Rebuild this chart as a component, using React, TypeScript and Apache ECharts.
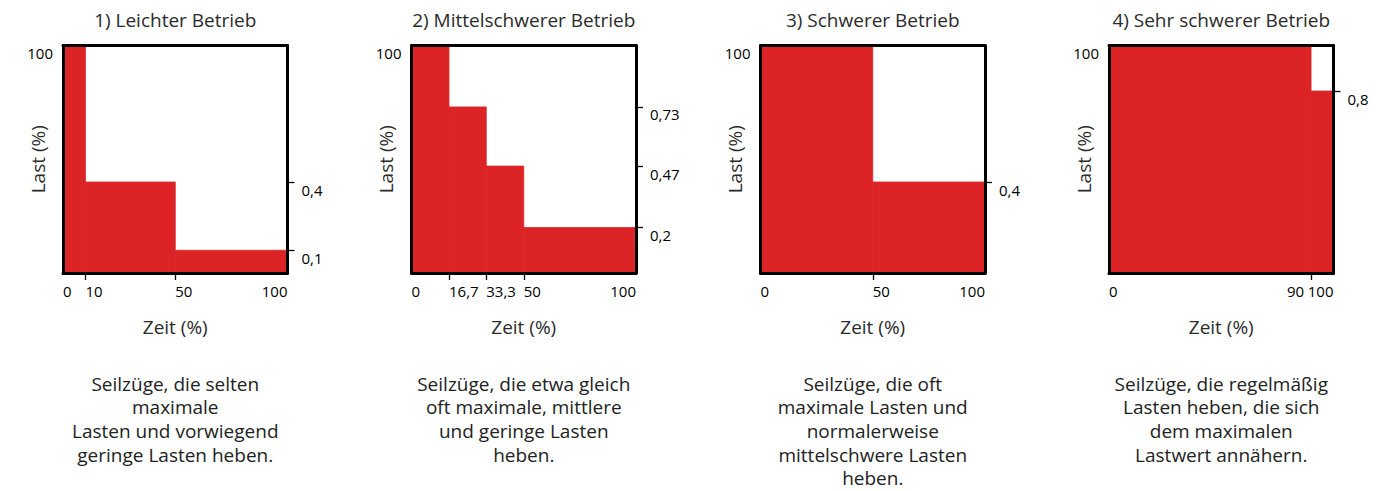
import React, { useEffect, useRef } from "react";
import * as echarts from "echarts";

// ---- data ----
const titles = [
  "1) Leichter Betrieb",
  "2) Mittelschwerer Betrieb",
  "3) Schwerer Betrieb",
  "4) Sehr schwerer Betrieb",
];

const descriptions = [
  ["Seilzüge, die selten", "maximale", "Lasten und vorwiegend", "geringe Lasten heben."],
  ["Seilzüge, die etwa gleich", "oft maximale, mittlere", "und geringe Lasten", "heben."],
  ["Seilzüge, die oft", "maximale Lasten und", "normalerweise", "mittelschwere Lasten", "heben."],
  ["Seilzüge, die regelmäßig", "Lasten heben, die sich", "dem maximalen", "Lastwert annähern."],
];

// time breaks (% of time) and load level held during each interval (fraction of max load)
const timeBreaks1 = [0, 10, 50, 100];
const loadLevels1 = [1, 0.4, 0.1];
const timeBreaks2 = [0, 16.7, 33.3, 50, 100];
const loadLevels2 = [1, 0.73, 0.47, 0.2];
const timeBreaks3 = [0, 50, 100];
const loadLevels3 = [1, 0.4];
const timeBreaks4 = [0, 90, 100];
const loadLevels4 = [1, 0.8];

// x tick values (interior breaks) and end labels
const xTicks1 = [10, 50];
const xTicks2 = [16.7, 33.3, 50];
const xTicks3 = [50];
const xTicks4 = [90];
const xEndLabels = [0, 100];

// right-hand load ticks
const yTicks1 = [0.4, 0.1];
const yTicks2 = [0.73, 0.47, 0.2];
const yTicks3 = [0.4];
const yTicks4 = [0.8];

const leftLabels = [100];

const xName = "Zeit (%)";
const yName = "Last (%)";

// ---- styling / layout ----
const FONT = "'Open Sans', sans-serif";
const RED = "#dc2427";
const GRID_LEFTS = [63, 411.5, 760.5, 1109];
const GRID_TOP = 45.5;
const GRID_W = 224.5;
const GRID_H = 227.5;
const BREAK_LABEL_ALIGN = ["left", "left", "left", "right"];
const BREAK_LABEL_PAD = [
  [0, 0, 0, 0],
  [0, 0, 0, 0],
  [0, 0, 0, 0],
  [0, 7, 0, 0],
];

const panels = [
  { breaks: timeBreaks1, loads: loadLevels1, xTicks: xTicks1, yTicks: yTicks1 },
  { breaks: timeBreaks2, loads: loadLevels2, xTicks: xTicks2, yTicks: yTicks2 },
  { breaks: timeBreaks3, loads: loadLevels3, xTicks: xTicks3, yTicks: yTicks3 },
  { breaks: timeBreaks4, loads: loadLevels4, xTicks: xTicks4, yTicks: yTicks4 },
];

const fmt = (v: number) => String(v).replace(".", ",");

const lineStyle = { color: "#000", width: 3 };
const tickStyle = { color: "#000", width: 1.3 };
const labelText = { color: "#000", fontSize: 15, fontWeight: 500, fontFamily: FONT };
const nameText = { color: "#2b2b2b", fontSize: 19, fontFamily: FONT };

function buildOption() {
  const grid: any[] = [];
  const xAxis: any[] = [];
  const yAxis: any[] = [];
  const series: any[] = [];
  const graphic: any[] = [];

  panels.forEach((p, i) => {
    const left = GRID_LEFTS[i];
    const cx = left + GRID_W / 2;
    grid.push({
      left,
      top: GRID_TOP,
      width: GRID_W,
      height: GRID_H,
      containLabel: false,
      outerBoundsMode: "none",
    });
    // main bottom axis: frame line, end labels, axis name
    xAxis.push({
      gridIndex: i,
      type: "value",
      position: "bottom",
      min: 0,
      max: 100,
      z: 5,
      axisLine: { show: true, onZero: false, lineStyle },
      axisTick: { show: false },
      axisLabel: {
        customValues: xEndLabels,
        formatter: fmt,
        alignMinLabel: "left",
        alignMaxLabel: "right",
        showMinLabel: true,
        showMaxLabel: true,
        margin: 10,
        ...labelText,
      },
      splitLine: { show: false },
      name: xName,
      nameLocation: "middle",
      nameGap: 44,
      nameMoveOverlap: false,
      nameTextStyle: nameText,
    });
    // top frame line
    xAxis.push({
      gridIndex: i,
      type: "value",
      position: "top",
      min: 0,
      max: 100,
      z: 5,
      axisLine: { show: true, onZero: false, lineStyle },
      axisTick: { show: false },
      axisLabel: { show: false },
      splitLine: { show: false },
    });
    // break axis: ticks + labels at the interior time breaks
    xAxis.push({
      gridIndex: i,
      type: "value",
      position: "bottom",
      min: 0,
      max: 100,
      z: 5,
      axisLine: { show: false, onZero: false },
      axisTick: { show: true, customValues: p.xTicks, length: 7, lineStyle: tickStyle },
      axisLabel: {
        customValues: p.xTicks,
        formatter: fmt,
        align: BREAK_LABEL_ALIGN[i],
        padding: BREAK_LABEL_PAD[i],
        showMinLabel: true,
        showMaxLabel: true,
        margin: 10,
        ...labelText,
      },
      splitLine: { show: false },
    });
    yAxis.push({
      gridIndex: i,
      type: "value",
      position: "left",
      min: 0,
      max: 100,
      z: 5,
      axisLine: { show: true, onZero: false, lineStyle },
      axisTick: { show: false },
      axisLabel: {
        customValues: leftLabels,
        verticalAlign: "top",
        showMaxLabel: true,
        margin: 10,
        ...labelText,
      },
      splitLine: { show: false },
      name: yName,
      nameLocation: "middle",
      nameGap: 16,
      nameMoveOverlap: false,
      nameTextStyle: nameText,
    });
    yAxis.push({
      gridIndex: i,
      type: "value",
      position: "right",
      min: 0,
      max: 1,
      z: 5,
      axisLine: { show: true, onZero: false, lineStyle },
      axisTick: { show: true, customValues: p.yTicks, length: 7, lineStyle: tickStyle },
      axisLabel: {
        customValues: p.yTicks,
        formatter: fmt,
        verticalAlign: "top",
        showMinLabel: true,
        showMaxLabel: true,
        margin: 14,
        ...labelText,
      },
      splitLine: { show: false },
    });

    const segs = p.loads.map((l, k) => [p.breaks[k], p.breaks[k + 1], l]);
    series.push({
      type: "custom",
      xAxisIndex: 3 * i,
      yAxisIndex: 2 * i + 1,
      z: 1,
      encode: { x: [0, 1], y: 2 },
      data: segs,
      renderItem: (_params: any, api: any) => {
        const a = api.coord([api.value(0), api.value(2)]);
        const b = api.coord([api.value(1), 0]);
        return {
          type: "rect",
          shape: { x: a[0], y: a[1], width: b[0] - a[0], height: b[1] - a[1] },
          style: { fill: RED, stroke: RED, lineWidth: 0.8 },
        };
      },
    });

    graphic.push({
      type: "text",
      x: cx,
      y: 8,
      style: {
        text: titles[i],
        align: "center",
        verticalAlign: "top",
        fontSize: 19,
        lineHeight: 24,
        fontFamily: FONT,
        fill: "#2b2b2b",
      },
    });
    graphic.push({
      type: "text",
      x: cx,
      y: 372,
      style: {
        text: descriptions[i].join("\n"),
        align: "center",
        verticalAlign: "top",
        fontSize: 19,
        lineHeight: 23.6,
        fontFamily: FONT,
        fill: "#222",
      },
    });
  });

  return { animation: false, backgroundColor: "#fff", grid, xAxis, yAxis, series, graphic };
}

export default function App() {
  const ref = useRef<HTMLDivElement>(null);
  useEffect(() => {
    if (!ref.current) return;
    const chart = echarts.init(ref.current, undefined, { renderer: "svg" });
    chart.setOption(buildOption() as any);
    return () => chart.dispose();
  }, []);
  return (
    <div
      ref={ref}
      style={{ position: "fixed", left: 0, top: 0, width: 1395, height: 491 }}
    />
  );
}
